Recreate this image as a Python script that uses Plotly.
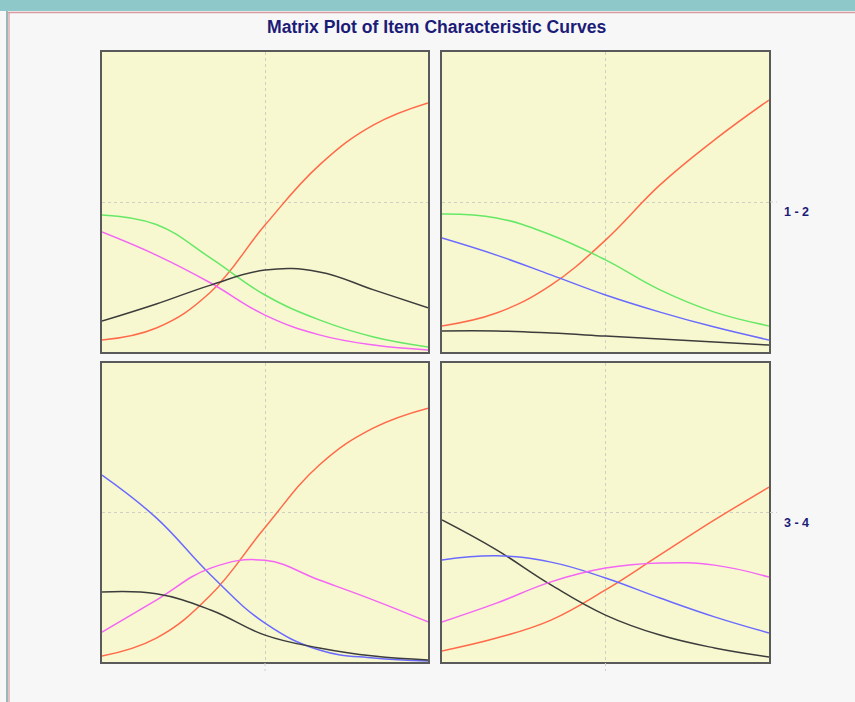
import plotly.graph_objects as go
from plotly.subplots import make_subplots

# Ability scale (theta) at which each response curve is tabulated
theta = [-3, -2, -1, 0, 1, 2, 3]

# Item 1 option probabilities
item1_red = [0.040, 0.080, 0.200, 0.423, 0.623, 0.757, 0.830]
item1_green = [0.457, 0.425, 0.313, 0.190, 0.107, 0.050, 0.017]
item1_magenta = [0.400, 0.323, 0.230, 0.123, 0.057, 0.023, 0.007]
item1_black = [0.103, 0.160, 0.223, 0.273, 0.267, 0.207, 0.147]

# Item 2 option probabilities
item2_red = [0.087, 0.130, 0.223, 0.373, 0.557, 0.707, 0.840]
item2_green = [0.460, 0.447, 0.390, 0.307, 0.207, 0.133, 0.087]
item2_blue = [0.380, 0.323, 0.257, 0.190, 0.133, 0.083, 0.040]
item2_black = [0.070, 0.070, 0.063, 0.053, 0.043, 0.033, 0.023]

# Item 3 option probabilities
item3_red = [0.020, 0.080, 0.224, 0.450, 0.659, 0.783, 0.849]
item3_blue = [0.625, 0.482, 0.291, 0.130, 0.040, 0.013, 0.003]
item3_magenta = [0.100, 0.207, 0.314, 0.340, 0.274, 0.207, 0.134]
item3_black = [0.234, 0.228, 0.174, 0.090, 0.047, 0.020, 0.007]

# Item 4 option probabilities
item4_red = [0.037, 0.080, 0.140, 0.241, 0.358, 0.475, 0.585]
item4_black = [0.475, 0.375, 0.258, 0.157, 0.090, 0.047, 0.017]
item4_blue = [0.341, 0.355, 0.334, 0.281, 0.214, 0.151, 0.097]
item4_magenta = [0.134, 0.197, 0.268, 0.314, 0.331, 0.324, 0.284]

row_labels = ["1 - 2", "3 - 4"]
title_text = "Matrix Plot of Item Characteristic Curves"

RED = "#ff6a4a"
GREEN = "#66e866"
MAGENTA = "#f466f4"
BLUE = "#6a6aff"
BLACK = "#3c3c3c"
NAVY = "#1c1c78"
GRID = "#cfcfc6"

W, H = 855, 702

panels = [
    (1, 1, [(item1_red, RED), (item1_green, GREEN), (item1_magenta, MAGENTA), (item1_black, BLACK)]),
    (1, 2, [(item2_red, RED), (item2_green, GREEN), (item2_blue, BLUE), (item2_black, BLACK)]),
    (2, 1, [(item3_red, RED), (item3_blue, BLUE), (item3_magenta, MAGENTA), (item3_black, BLACK)]),
    (2, 2, [(item4_red, RED), (item4_black, BLACK), (item4_blue, BLUE), (item4_magenta, MAGENTA)]),
]

fig = make_subplots(rows=2, cols=2)

for r, c, curves in panels:
    for vals, col in curves:
        fig.add_trace(
            go.Scatter(x=theta, y=vals, mode="lines",
                       line=dict(color=col, width=1.5, shape="spline", smoothing=1.2),
                       showlegend=False, hoverinfo="skip"),
            row=r, col=c)

# panel positions in pixels (left, right) and (top, bottom)
col_px = [(102, 428), (442, 769)]
row_px = [(52, 352), (363, 662)]

def px_x(p):
    return p / W

def px_y(p):
    return 1 - p / H

for r in (1, 2):
    for c in (1, 2):
        x0, x1 = col_px[c - 1]
        t, b = row_px[r - 1]
        fig.update_xaxes(domain=[px_x(x0), px_x(x1)], range=[-3, 3],
                         showticklabels=False, ticks="", tickvals=[0],
                         showgrid=True, gridcolor=GRID, griddash="3px,3px", gridwidth=1,
                         zeroline=False, showline=True, mirror=True,
                         linecolor="#5a5a5a", linewidth=2, row=r, col=c)
        fig.update_yaxes(domain=[px_y(b), px_y(t)], range=[0, 1],
                         showticklabels=False, ticks="", tickvals=[0.5],
                         showgrid=True, gridcolor=GRID, griddash="3px,3px", gridwidth=1,
                         zeroline=False, showline=True, mirror=True,
                         linecolor="#5a5a5a", linewidth=2, row=r, col=c)

shapes = [
    # window frame
    dict(type="rect", xref="paper", yref="paper", x0=0, x1=1, y0=px_y(11), y1=1,
         fillcolor="#8fc8c8", line=dict(width=0), layer="below"),
    dict(type="line", xref="paper", yref="paper", x0=px_x(6), x1=1, y0=px_y(12.5), y1=px_y(12.5),
         line=dict(color="#d79aa2", width=1.5)),
    dict(type="line", xref="paper", yref="paper", x0=px_x(7), x1=px_x(7), y0=0, y1=px_y(11),
         line=dict(color="#9ab8b8", width=2)),
    dict(type="line", xref="paper", yref="paper", x0=px_x(9), x1=px_x(9), y0=0, y1=px_y(12),
         line=dict(color="#d79aa2", width=1.2)),
]
# dashed tick stubs beyond the lower and right panel edges
for c in (1, 2):
    x0, x1 = col_px[c - 1]
    xm = (x0 + x1) / 2
    shapes.append(dict(type="line", xref="paper", yref="paper",
                       x0=px_x(xm), x1=px_x(xm), y0=px_y(663), y1=px_y(671),
                       line=dict(color=GRID, width=1, dash="3px,3px")))
for r in (1, 2):
    t, b = row_px[r - 1]
    ym = (t + b) / 2
    shapes.append(dict(type="line", xref="paper", yref="paper",
                       x0=px_x(770), x1=px_x(777), y0=px_y(ym), y1=px_y(ym),
                       line=dict(color=GRID, width=1, dash="3px,3px")))

annotations = [
    dict(text="<b>%s</b>" % title_text, xref="paper", yref="paper",
         x=px_x(436.5), y=px_y(27), xanchor="center", yanchor="middle", showarrow=False,
         font=dict(family="Liberation Sans, Arial, sans-serif", size=17.6, color=NAVY)),
]
for r in (1, 2):
    t, b = row_px[r - 1]
    annotations.append(dict(text="<b>%s</b>" % row_labels[r - 1], xref="paper", yref="paper",
                            x=px_x(796), y=px_y((t + b) / 2 + 10), xanchor="center",
                            yanchor="middle", showarrow=False,
                            font=dict(family="Liberation Sans, Arial, sans-serif",
                                      size=12.5, color=NAVY)))

fig.update_layout(
    width=W, height=H,
    margin=dict(l=0, r=0, t=0, b=0),
    paper_bgcolor="#f7f7f7",
    plot_bgcolor="#f8f8d0",
    shapes=shapes,
    annotations=annotations,
    showlegend=False,
)

fig.write_html("out.html")
